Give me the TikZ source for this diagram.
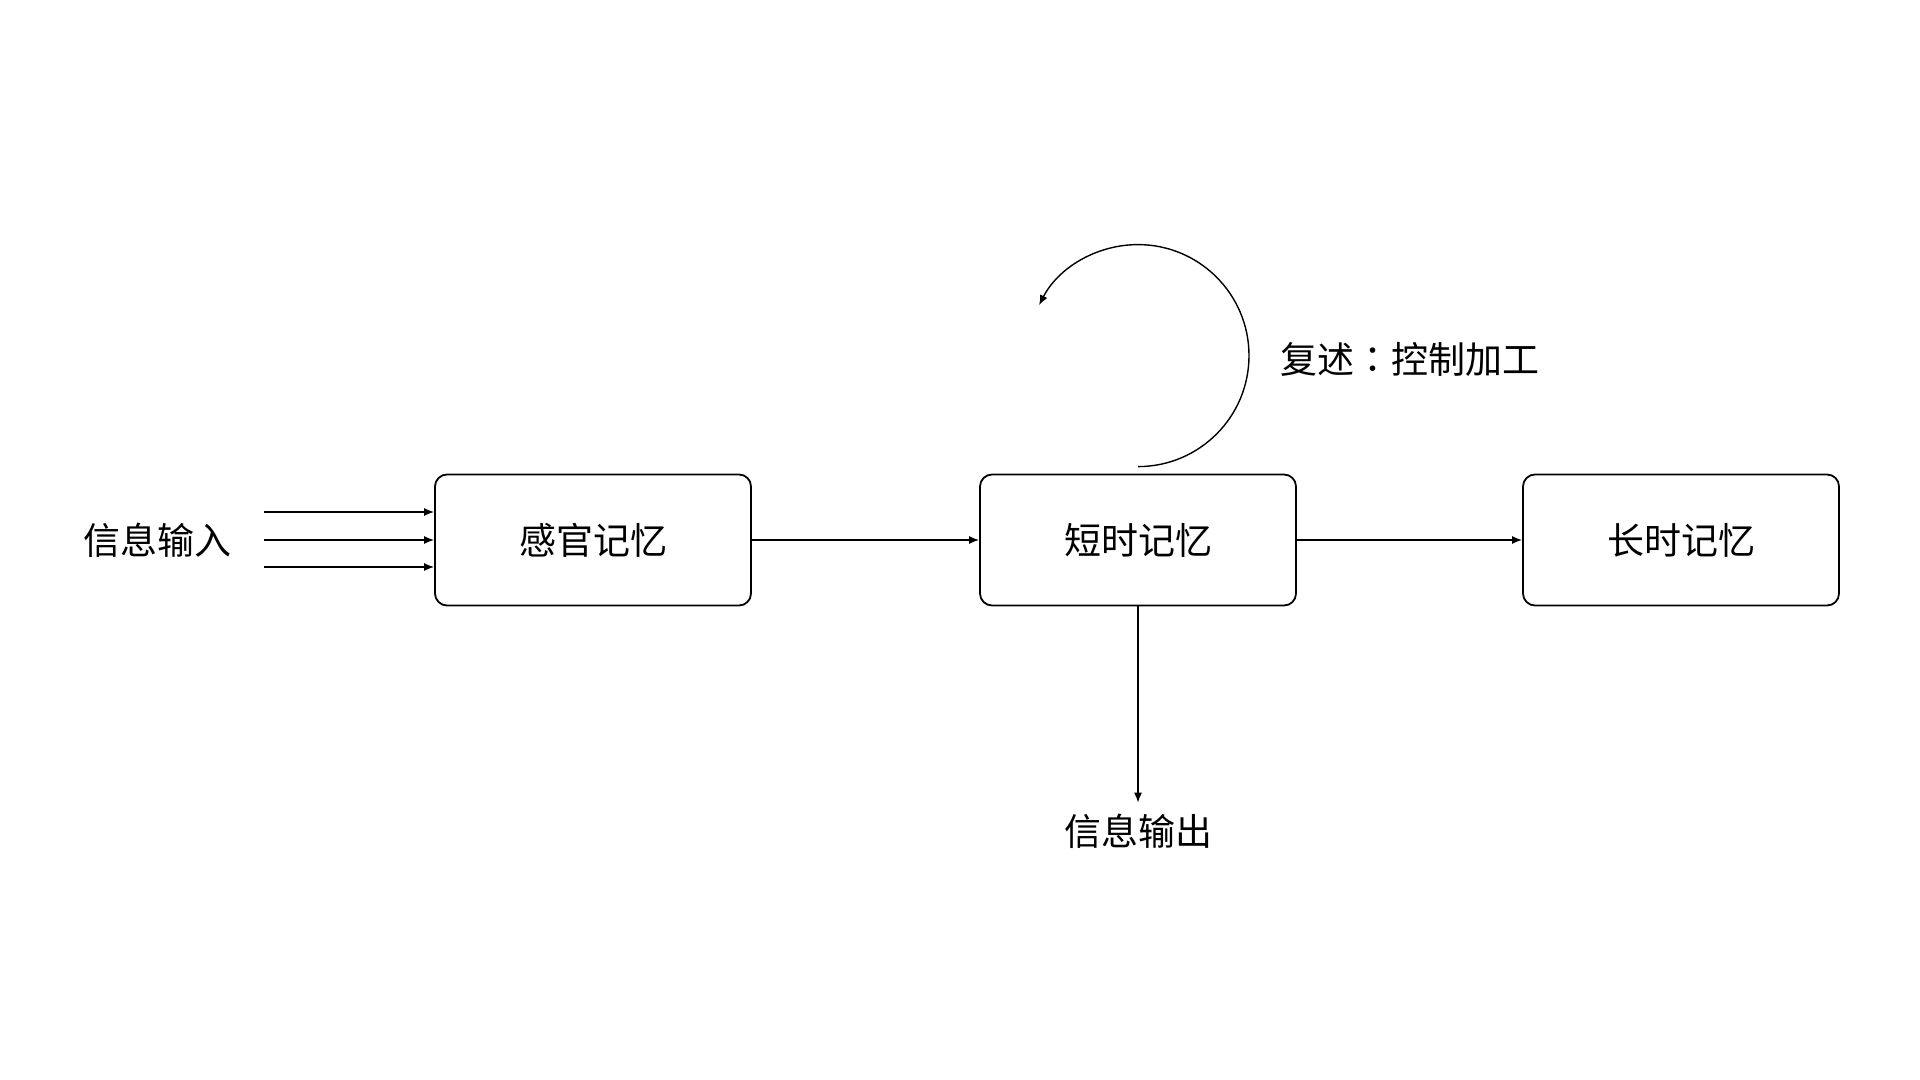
\documentclass[tikz,border=0pt]{standalone}
\usepackage{fontspec}
\setmainfont{Noto Sans CJK SC}
\newfontfamily\tcfont{Noto Sans CJK TC}
\usetikzlibrary{arrows.meta}

\tikzset{
  membox/.style={draw,line width=0.9pt,rounded corners=6pt,
    minimum width=158pt,minimum height=65.5pt,
    font=\fontsize{18.5}{22}\selectfont},
  lbl/.style={font=\fontsize{18.5}{22}\selectfont},
  flow/.style={-{Latex[length=5pt,width=4pt]},line width=0.7pt}
}

\begin{document}
\begin{tikzpicture}[x=0.5pt,y=-0.5pt]
    \useasboundingbox (0,0) rectangle (1920,1080);

    \node[membox] (sensory) at (593,540) {感官记忆};
    \node[membox] (short) at (1138,540) {短时记忆};
    \node[membox] (long) at (1681,540) {长时记忆};

    \node[lbl] (input) at (157,540) {信息输入};
    \node[lbl] (output) at (1138,831) {信息输出};
    \node[lbl] (rehearse) at (1410,359) {复述{\tcfont ：}控制加工};

    \foreach \i/\y in {1/512,2/540,3/567} {
        \coordinate (in\i) at (264,\y);
        \draw[flow] (in\i) -- (in\i -| sensory.west);
    }

    \draw[flow] (sensory.east) -- (short.west);
    \draw[flow] (short.east) -- (long.west);
    \draw[flow,shorten >=2pt] (short.south) -- (output.north);

    \draw[flow] ([yshift=3.5pt]short.north) arc[start angle=90,end angle=-153,radius=111];
\end{tikzpicture}
\end{document}
